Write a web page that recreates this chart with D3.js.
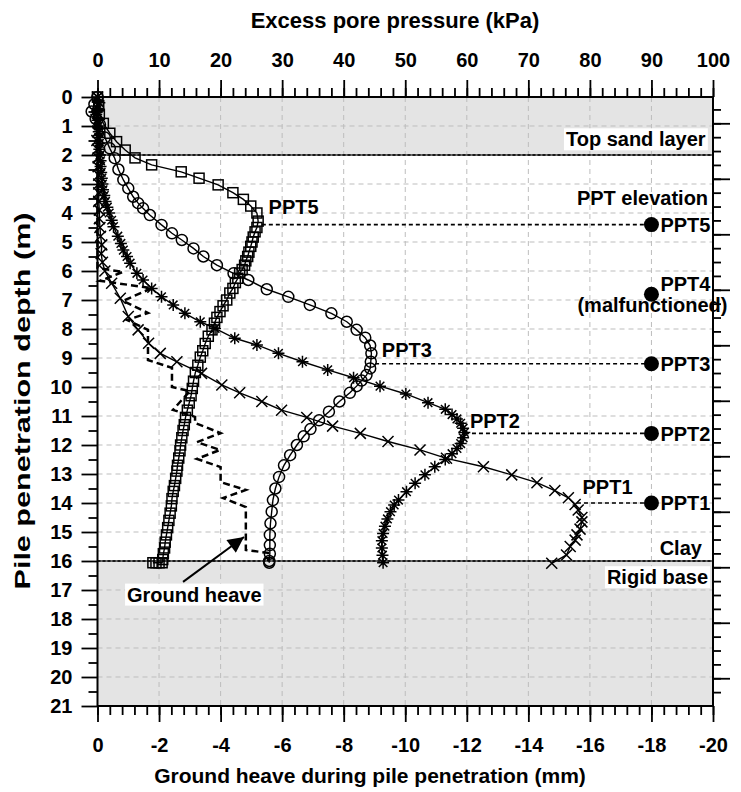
<!DOCTYPE html>
<html lang="en">
<head>
<meta charset="UTF-8">
<title>Excess pore pressure and ground heave during pile penetration</title>
<script src="https://d3js.org/d3.v7.min.js"></script>
<style>
  body { margin: 0; background: #fff; }
  svg text { font-family: "Liberation Sans", Arial, sans-serif; font-weight: bold; fill: #000; }
</style>
</head>
<body>
<svg id="chart" width="741" height="792"></svg>
<script>
// series: [excess pore pressure (kPa), pile penetration depth (m)]
const ppt5 = [[0,0],[0.2,0.3],[0.3,0.6],[0.95,0.91],[2.0,1.25],[3.1,1.54],[4.5,1.83],[6.1,2.1],[8.8,2.34],[13.6,2.58],[16.5,2.8],[19.6,3.03],[22.0,3.3],[23.7,3.53],[24.9,3.76],[25.9,4.0],[26.1,4.28],[25.9,4.5],[25.6,4.65],[25.3,4.83],[25.1,5.0],[24.9,5.15],[24.6,5.35],[24.4,5.5],[24.1,5.65],[23.9,5.8],[23.5,5.95],[23.1,6.07],[22.8,6.25],[22.4,6.4],[22.0,6.6],[21.5,6.76],[21.0,7.0],[20.4,7.2],[19.9,7.4],[19.4,7.6],[19.0,7.8],[18.6,8.03],[18.0,8.25],[17.5,8.5],[17.1,8.75],[16.7,8.97],[16.3,9.25],[15.9,9.5],[15.6,9.8],[15.4,10.05],[15.2,10.3],[14.9,10.55],[14.6,10.8],[14.3,11.05],[14.1,11.3],[13.9,11.5],[13.7,11.75],[13.5,12.0],[13.4,12.2],[13.2,12.45],[13.0,12.7],[12.9,12.9],[12.7,13.15],[12.5,13.4],[12.3,13.6],[12.1,13.85],[12.0,14.1],[11.8,14.35],[11.6,14.6],[11.4,14.85],[11.2,15.1],[11.0,15.35],[10.9,15.55],[10.7,15.75],[10.6,15.95],[10.5,16.06],[10.0,16.06],[9.5,16.06],[9.0,16.06]];

const ppt3 = [[0,0],[-0.5,0.25],[-0.95,0.5],[-0.3,0.75],[0.4,0.95],[1.2,1.4],[2.0,1.77],[2.8,2.11],[3.4,2.5],[4.2,2.86],[5.0,3.15],[5.8,3.44],[6.6,3.66],[7.4,3.84],[8.5,4.07],[10.4,4.41],[12.1,4.7],[13.7,4.93],[15.6,5.22],[17.2,5.5],[19.4,5.8],[22.1,6.08],[24.5,6.31],[27.5,6.63],[31.0,6.89],[34.5,7.17],[38.0,7.46],[40.5,7.75],[42.1,8.03],[43.5,8.3],[44.3,8.57],[44.5,8.84],[44.4,9.13],[44.3,9.36],[43.7,9.59],[42.9,9.78],[42.1,9.97],[41.0,10.2],[39.3,10.5],[37.6,10.85],[36.0,11.15],[34.6,11.45],[33.5,11.7],[32.4,12.0],[31.3,12.35],[30.3,12.7],[29.5,13.1],[28.9,13.5],[28.5,13.9],[28.3,14.3],[28.1,14.7],[28.0,15.1],[28.0,15.45],[28.0,15.75],[27.9,16.0],[27.9,16.06]];

const ppt2 = [[0,0],[0.3,0.2],[0.1,0.4],[-0.2,0.6],[0,0.8],[0.1,1.0],[0.2,1.2],[0.2,1.4],[0.3,1.6],[0.3,1.8],[0.4,2.0],[0.5,2.2],[0.5,2.4],[0.6,2.6],[0.7,2.8],[0.8,3.0],[0.9,3.2],[1.1,3.4],[1.3,3.6],[1.6,3.8],[1.9,4.0],[2.3,4.25],[2.6,4.47],[3.3,4.8],[3.8,5.05],[4.2,5.28],[4.8,5.5],[5.3,5.73],[6.4,6.08],[7.4,6.31],[8.8,6.6],[10.4,6.89],[12.3,7.17],[14.2,7.46],[16.7,7.75],[19.1,7.98],[22.3,8.32],[25.9,8.55],[29.4,8.84],[33.3,9.13],[37.4,9.41],[41.6,9.68],[45.9,9.97],[50.1,10.24],[53.7,10.54],[56.5,10.77],[57.6,10.95],[58.4,11.1],[59.0,11.25],[59.4,11.42],[59.6,11.57],[59.4,11.75],[59.0,11.95],[58.4,12.12],[57.6,12.3],[56.5,12.5],[54.8,12.75],[53.2,13.03],[51.6,13.32],[50.2,13.61],[48.9,13.9],[48.2,14.07],[47.6,14.3],[47.1,14.55],[46.7,14.8],[46.4,15.05],[46.2,15.3],[46.2,15.55],[46.3,15.8],[46.4,16.06]];

const ppt1 = [[0,0],[0.1,0.3],[0.2,0.6],[0.1,0.9],[0,1.2],[-0.1,1.5],[0,1.8],[0.1,2.1],[0.1,2.4],[0.2,2.7],[0.2,3.0],[0.2,3.3],[0.2,3.6],[0.3,3.9],[0.3,4.2],[0.4,4.5],[0.5,4.8],[0.7,5.1],[0.6,5.4],[0.8,5.7],[1.2,6.0],[2.3,6.42],[3.7,6.94],[5.0,7.57],[6.6,8.03],[8.3,8.49],[10.2,8.84],[12.9,9.13],[16.9,9.53],[20.2,9.93],[23.1,10.2],[26.7,10.5],[29.9,10.8],[34.0,11.05],[38.2,11.35],[42.7,11.6],[47.2,11.88],[52.4,12.17],[56.7,12.46],[62.7,12.75],[67.3,13.03],[71.4,13.3],[74.3,13.57],[76.5,13.82],[77.6,14.05],[78.1,14.24],[78.7,14.5],[78.7,14.65],[78.4,14.9],[77.9,15.1],[77.6,15.28],[76.8,15.5],[76.2,15.79],[73.8,16.08]];

// ground heave: [heave (mm), depth (m)]
const heave = [[0,0],[0,5.9],[-0.83,6.03],[-0.08,6.34],[-1.77,6.59],[-0.83,7.03],[-1.64,7.45],[-0.96,7.69],[-1.64,8.03],[-1.64,9.07],[-2.42,9.34],[-2.42,10.0],[-3.0,10.14],[-2.45,10.79],[-3.17,11.03],[-3.17,11.24],[-4.0,11.59],[-3.23,11.9],[-3.98,12.17],[-3.23,12.48],[-4.0,12.76],[-4.0,13.28],[-4.82,13.55],[-4.08,13.83],[-4.82,14.14],[-4.82,15.62],[-5.54,15.72],[-5.54,16.0]];

// PPT positions
const pptNames = ["PPT1", "PPT2", "PPT3", "PPT4", "PPT5"];
const pptDepths = [14.0, 11.6, 9.2, 6.8, 4.4];
const pptPeak = [77.9, 59.7, 45.1, null, 26.7];   // kPa where the dashed link starts
const pptX = 90;

// layers (depth, m)
const sandLayer = [0, 2];
const baseLayer = [16, 21];

const svg = d3.select("#chart");
const x = d3.scaleLinear().domain([0, 100]).range([97.5, 713]);
const xHeave = d3.scaleLinear().domain([0, -20]).range([97.5, 713]);
const y = d3.scaleLinear().domain([0, 21]).range([97, 706]);
const yRight = d3.scaleLinear().domain([-0.474, 10.5]).range([97, 706]);

// gray layers
[sandLayer, baseLayer].forEach(l => {
  svg.append("rect")
    .attr("x", x(0)).attr("y", y(l[0]))
    .attr("width", x(100) - x(0)).attr("height", y(l[1]) - y(l[0]))
    .attr("fill", "#e4e4e4");
});

// grid
svg.append("g").selectAll("line").data(d3.range(10, 100, 10)).join("line")
  .attr("x1", d => x(d)).attr("x2", d => x(d))
  .attr("y1", y(0)).attr("y2", y(21))
  .attr("stroke", "#bdbdbd").attr("stroke-dasharray", "5,4");
svg.append("g").selectAll("line").data(d3.range(1, 21)).join("line")
  .attr("x1", x(0)).attr("x2", x(100))
  .attr("y1", d => y(d)).attr("y2", d => y(d))
  .attr("stroke", "#bdbdbd").attr("stroke-dasharray", "5,4");

// layer boundaries
[sandLayer[1], baseLayer[0]].forEach(d => {
  svg.append("line")
    .attr("x1", x(0)).attr("x2", x(100)).attr("y1", y(d)).attr("y2", y(d))
    .attr("stroke", "#444").attr("stroke-width", 1.3);
  svg.append("line")
    .attr("x1", x(0)).attr("x2", x(100)).attr("y1", y(d)).attr("y2", y(d))
    .attr("stroke", "#000").attr("stroke-width", 1.3).attr("stroke-dasharray", "3,2");
});

// text with white box
function boxedText(tx, ty, str, anchor) {
  const g = svg.append("g");
  const t = g.append("text").attr("x", tx).attr("y", ty)
    .attr("text-anchor", anchor).attr("font-size", 20).text(str);
  const b = t.node().getBBox();
  g.insert("rect", "text")
    .attr("x", b.x - 2).attr("y", b.y).attr("width", b.width + 4).attr("height", b.height)
    .attr("fill", "#fff");
  return g;
}

// connectors from curve peaks to PPT symbols
pptDepths.forEach((d, i) => {
  if (pptPeak[i] === null) return;
  svg.append("line")
    .attr("x1", x(pptPeak[i])).attr("x2", x(pptX))
    .attr("y1", y(d)).attr("y2", y(d))
    .attr("stroke", "#000").attr("stroke-width", 1.6).attr("stroke-dasharray", "4,3");
});

// curves
const line = d3.line().x(d => x(d[0])).y(d => y(d[1]));
[ppt5, ppt3, ppt2, ppt1].forEach(s => {
  svg.append("path").datum(s).attr("d", line)
    .attr("fill", "none").attr("stroke", "#000").attr("stroke-width", 1.4);
});

// markers
const mk = svg.append("g").attr("fill", "none").attr("stroke", "#000").attr("stroke-width", 1.5);
mk.selectAll(".sq").data(ppt5).join("rect").attr("class", "sq")
  .attr("x", d => x(d[0]) - 5).attr("y", d => y(d[1]) - 5)
  .attr("width", 10).attr("height", 10);
mk.selectAll(".ci").data(ppt3).join("circle").attr("class", "ci")
  .attr("cx", d => x(d[0])).attr("cy", d => y(d[1])).attr("r", 5.5);
const star = "M-6,0L6,0M0,-6L0,6M-4.3,-4.3L4.3,4.3M-4.3,4.3L4.3,-4.3";
mk.selectAll(".st").data(ppt2).join("path").attr("class", "st")
  .attr("transform", d => `translate(${x(d[0])},${y(d[1])})`).attr("d", star);
const cross = "M-5.5,-5.5L5.5,5.5M-5.5,5.5L5.5,-5.5";
mk.selectAll(".cr").data(ppt1).join("path").attr("class", "cr")
  .attr("transform", d => `translate(${x(d[0])},${y(d[1])})`).attr("d", cross);

// ground heave
svg.append("path").datum(heave)
  .attr("d", d3.line().x(d => xHeave(d[0])).y(d => y(d[1])))
  .attr("fill", "none").attr("stroke", "#000").attr("stroke-width", 2.5)
  .attr("stroke-dasharray", "7,4");

// PPT symbols
svg.append("g").selectAll("circle").data(pptDepths).join("circle")
  .attr("cx", x(pptX)).attr("cy", d => y(d)).attr("r", 7.5).attr("fill", "#000");
pptDepths.forEach((d, i) => {
  if (i === 3) return;
  svg.append("text").attr("x", x(pptX) + 9).attr("y", y(d)).attr("dy", "0.36em")
    .attr("font-size", 20).text(pptNames[i]);
});
svg.append("text").attr("x", x(pptX) + 9).attr("y", y(pptDepths[3]) - 3)
  .attr("font-size", 20).text(pptNames[3]);
svg.append("text").attr("x", x(pptX) + 1).attr("y", y(pptDepths[3]) + 18)
  .attr("text-anchor", "middle").attr("font-size", 20).text("(malfunctioned)");

// curve labels
svg.append("text").attr("x", x(27.8)).attr("y", y(4.05)).attr("font-size", 20).text("PPT5");
svg.append("text").attr("x", x(46.2)).attr("y", y(8.96)).attr("font-size", 20).text("PPT3");
svg.append("text").attr("x", x(60.5)).attr("y", y(11.4)).attr("font-size", 20).text("PPT2");
svg.append("text").attr("x", x(78.8)).attr("y", y(13.68)).attr("font-size", 20).text("PPT1");

// layer labels
boxedText(x(98.8), y(1.7), "Top sand layer", "end");
svg.append("text").attr("x", x(99.2)).attr("y", y(3.72)).attr("text-anchor", "end")
  .attr("font-size", 20).text("PPT elevation");
svg.append("text").attr("x", x(98.2)).attr("y", y(15.8)).attr("text-anchor", "end")
  .attr("font-size", 20).text("Clay");
boxedText(x(99.2), y(16.8), "Rigid base", "end");
boxedText(x(4.8), y(17.4), "Ground heave", "start");

// arrow to the heave curve
svg.append("defs").append("marker").attr("id", "ah")
  .attr("viewBox", "0 0 10 10").attr("refX", 10).attr("refY", 5)
  .attr("markerWidth", 22).attr("markerHeight", 16).attr("markerUnits", "userSpaceOnUse")
  .attr("orient", "auto")
  .append("path").attr("d", "M0,0L10,5L0,10Z").attr("fill", "#000");
svg.append("line")
  .attr("x1", xHeave(-2.78)).attr("y1", y(16.72))
  .attr("x2", xHeave(-4.76)).attr("y2", y(15.17))
  .attr("stroke", "#000").attr("stroke-width", 2)
  .attr("marker-end", "url(#ah)");

// axes
function styleAxis(g, size) {
  g.select(".domain").remove();
  g.selectAll(".tick line").attr("stroke", "#000").attr("stroke-width", 1.8);
  g.selectAll("text").attr("font-size", size).attr("fill", "#000")
    .style("font-family", '"Liberation Sans", Arial, sans-serif').style("font-weight", "bold");
}
const fmt = d => String(d);

svg.append("g").attr("transform", `translate(0,${y(0)})`)
  .call(d3.axisTop(x).tickValues(d3.range(0, 101, 2)).tickSize(9).tickFormat(""))
  .call(g => styleAxis(g, 20));
svg.append("g").attr("transform", `translate(0,${y(0)})`)
  .call(d3.axisTop(x).tickValues(d3.range(0, 101, 10)).tickSize(17).tickPadding(13).tickFormat(fmt))
  .call(g => styleAxis(g, 20));

svg.append("g").attr("transform", `translate(0,${y(21)})`)
  .call(d3.axisBottom(xHeave).tickValues(d3.range(0, -20.01, -0.4)).tickSize(9).tickFormat(""))
  .call(g => styleAxis(g, 20));
svg.append("g").attr("transform", `translate(0,${y(21)})`)
  .call(d3.axisBottom(xHeave).tickValues(d3.range(0, -21, -2)).tickSize(16).tickPadding(16).tickFormat(fmt))
  .call(g => styleAxis(g, 20));

svg.append("g").attr("transform", `translate(${x(0)},0)`)
  .call(d3.axisLeft(y).tickValues(d3.range(0.5, 21, 1)).tickSize(9).tickFormat(""))
  .call(g => styleAxis(g, 20));
svg.append("g").attr("transform", `translate(${x(0)},0)`)
  .call(d3.axisLeft(y).tickValues(d3.range(0, 22)).tickSize(16).tickPadding(9).tickFormat(fmt))
  .call(g => styleAxis(g, 20));

svg.append("g").attr("transform", `translate(${x(100)},0)`)
  .call(d3.axisRight(yRight).tickValues(d3.range(-0.25, 10.3, 0.25)).tickSize(8).tickFormat(""))
  .call(g => styleAxis(g, 20));
svg.append("g").attr("transform", `translate(${x(100)},0)`)
  .call(d3.axisRight(yRight).tickValues(d3.range(0, 11)).tickSize(17).tickFormat(""))
  .call(g => styleAxis(g, 20));

// frame
svg.append("rect")
  .attr("x", x(0)).attr("y", y(0)).attr("width", x(100) - x(0)).attr("height", y(21) - y(0))
  .attr("fill", "none").attr("stroke", "#000").attr("stroke-width", 2);

// axis titles
svg.append("text").attr("x", 395).attr("y", 28).attr("text-anchor", "middle")
  .attr("font-size", 22).text("Excess pore pressure (kPa)");
svg.append("text").attr("x", 370).attr("y", 783).attr("text-anchor", "middle")
  .attr("font-size", 21).text("Ground heave during pile penetration (mm)");
svg.append("text").attr("transform", "translate(30,401) rotate(-90)").attr("text-anchor", "middle")
  .attr("font-size", 22).attr("textLength", 377).attr("lengthAdjust", "spacingAndGlyphs")
  .text("Pile penetration depth (m)");
</script>
</body>
</html>
